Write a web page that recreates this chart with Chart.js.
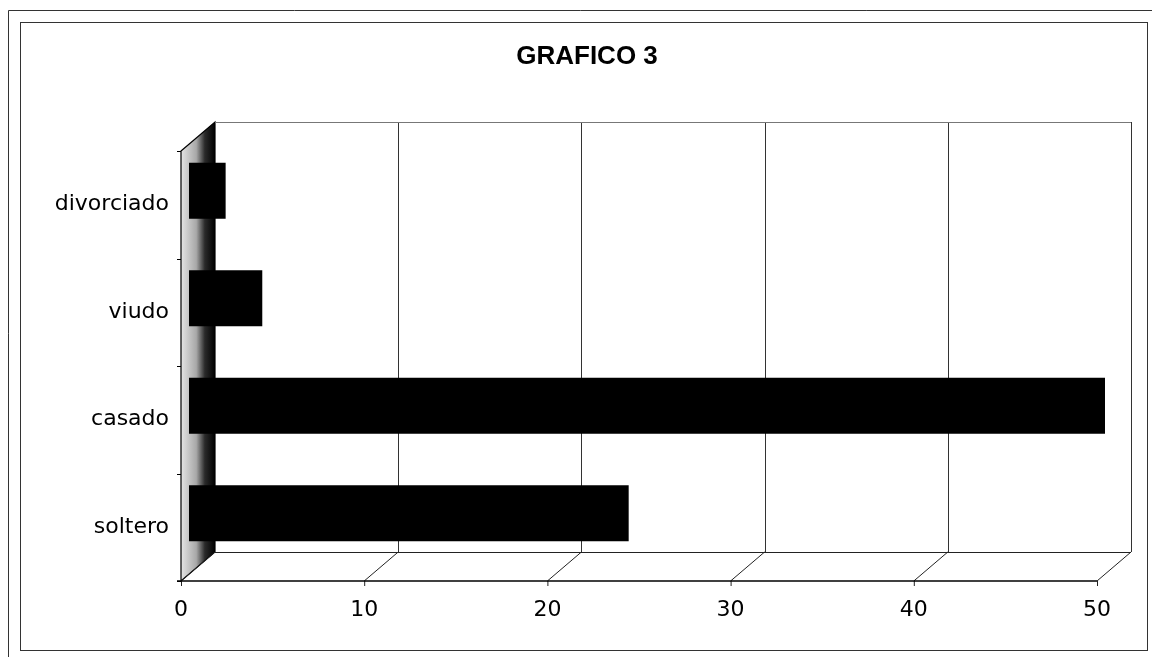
<!DOCTYPE html>
<html>
<head>
<meta charset="utf-8">
<script src="https://cdn.jsdelivr.net/npm/chart.js@4"></script>
<style>
    body { margin: 0; background: #fff; }
    #wrap { width: 1152px; height: 657px; position: relative; }
</style>
</head>
<body>
<div id="wrap"><canvas id="grafico3"></canvas></div>
<script>
const categories = ['soltero', 'casado', 'viudo', 'divorciado'];
const counts = [24, 50, 4, 2];
const xTicks = [0, 10, 20, 30, 40, 50];

// offsets of the front and back planes from the plane the bars sit in
const FRONT = { dx: -8, dy: 14 };
const BACK = { dx: 26, dy: -15 };

const grafico3Ctx = document.getElementById('grafico3').getContext('2d');

const box3d = {
    id: 'box3d',
    beforeDatasetsDraw(chart) {
        const ctx = chart.ctx;
        const area = chart.chartArea;
        const xs = chart.scales.x;
        const x0 = xs.getPixelForValue(0);
        const xMax = xs.getPixelForValue(xTicks[xTicks.length - 1]);
        ctx.save();

        // left wall
        const grad = ctx.createLinearGradient(x0 + FRONT.dx, 0, x0 + BACK.dx, 0);
        grad.addColorStop(0, '#e4e4e4');
        grad.addColorStop(0.45, '#a8a8a8');
        grad.addColorStop(0.7, '#2a2a2a');
        grad.addColorStop(1, '#000');
        ctx.fillStyle = grad;
        ctx.beginPath();
        ctx.moveTo(x0 + FRONT.dx, area.top + FRONT.dy);
        ctx.lineTo(x0 + BACK.dx, area.top + BACK.dy);
        ctx.lineTo(x0 + BACK.dx, area.bottom + BACK.dy);
        ctx.lineTo(x0 + FRONT.dx, area.bottom + FRONT.dy);
        ctx.closePath();
        ctx.fill();
        ctx.strokeStyle = '#000';
        ctx.lineWidth = 1.2;
        ctx.stroke();

        // back wall grid lines
        ctx.strokeStyle = '#333';
        ctx.lineWidth = 1;
        xTicks.forEach(v => {
            if (v === 0) return;
            const x = Math.round(xs.getPixelForValue(v) + BACK.dx) + 0.5;
            ctx.beginPath();
            ctx.moveTo(x, area.top + BACK.dy);
            ctx.lineTo(x, area.bottom + BACK.dy);
            ctx.stroke();
        });
        // back top edge
        ctx.strokeStyle = '#777';
        ctx.beginPath();
        ctx.moveTo(x0 + BACK.dx, area.top + BACK.dy + 0.5);
        ctx.lineTo(xMax + BACK.dx, area.top + BACK.dy + 0.5);
        ctx.stroke();

        // floor
        ctx.strokeStyle = '#222';
        ctx.beginPath();
        ctx.moveTo(x0 + BACK.dx, area.bottom + BACK.dy + 0.5);
        ctx.lineTo(xMax + BACK.dx, area.bottom + BACK.dy + 0.5);
        ctx.stroke();
        xTicks.forEach(v => {
            const x = xs.getPixelForValue(v);
            ctx.beginPath();
            ctx.moveTo(x + FRONT.dx, area.bottom + FRONT.dy);
            ctx.lineTo(x + BACK.dx, area.bottom + BACK.dy);
            ctx.stroke();
            // tick mark below the front edge
            ctx.beginPath();
            ctx.moveTo(x + FRONT.dx + 0.5, area.bottom + FRONT.dy);
            ctx.lineTo(x + FRONT.dx + 0.5, area.bottom + FRONT.dy + 5);
            ctx.stroke();
        });
        ctx.strokeStyle = '#000';
        ctx.lineWidth = 1.5;
        ctx.beginPath();
        ctx.moveTo(x0 + FRONT.dx - 4, area.bottom + FRONT.dy);
        ctx.lineTo(xMax + FRONT.dx, area.bottom + FRONT.dy);
        ctx.stroke();

        // small ticks on the wall edge between categories
        ctx.lineWidth = 1;
        const step = (area.bottom - area.top) / categories.length;
        for (let i = 0; i <= categories.length; i++) {
            const y = Math.round(area.top + FRONT.dy + i * step) + 0.5;
            ctx.beginPath();
            ctx.moveTo(x0 + FRONT.dx - 4, y);
            ctx.lineTo(x0 + FRONT.dx, y);
            ctx.stroke();
        }
        ctx.restore();
    },
    afterDraw(chart) {
        // the frame round the chart
        const ctx = chart.ctx;
        ctx.save();
        ctx.strokeStyle = '#333';
        ctx.lineWidth = 1;
        ctx.strokeRect(20.5, 22.5, 1127, 628);
        ctx.beginPath();
        ctx.moveTo(8.5, 657);
        ctx.lineTo(8.5, 10.5);
        ctx.lineTo(1152, 10.5);
        ctx.stroke();
        ctx.restore();
    }
};

new Chart(grafico3Ctx, {
    type: 'bar',
    data: {
        labels: categories,
        datasets: [{
            label: 'GRAFICO 3',
            data: counts,
            backgroundColor: '#000',
            borderWidth: 0,
            barPercentage: 0.52,
            categoryPercentage: 1
        }]
    },
    options: {
        indexAxis: 'y',
        responsive: true,
        maintainAspectRatio: false,
        animation: false,
        layout: {
            padding: { left: 22, right: 0, top: 0, bottom: 0 }
        },
        plugins: {
            legend: { display: false },
            tooltip: { enabled: false },
            title: {
                display: true,
                text: 'GRAFICO 3',
                color: '#000',
                font: { family: "'Liberation Sans', Arial, sans-serif", size: 26, weight: 'bold' },
                padding: { top: 41, bottom: 64.8 }
            }
        },
        scales: {
            x: {
                min: 0,
                max: 50,
                afterFit: (scale) => { scale.height = 90; },
                afterBuildTicks: (scale) => { scale.ticks = xTicks.map(v => ({ value: v })); },
                grid: { display: false },
                border: { display: false },
                ticks: {
                    color: '#000',
                    padding: 22,
                    labelOffset: -8,
                    font: { family: "'DejaVu Sans', sans-serif", size: 22 }
                }
            },
            y: {
                reverse: true,
                afterFit: (scale) => { scale.width = 167; },
                grid: { display: false },
                border: { display: false },
                ticks: {
                    color: '#000',
                    padding: 12,
                    labelOffset: 14,
                    font: { family: "'DejaVu Sans', sans-serif", size: 22 }
                }
            },
            // empty strip on the right, keeps the plot clear of the frame
            yRight: {
                type: 'category',
                position: 'right',
                afterFit: (scale) => { scale.width = 47; },
                grid: { display: false },
                border: { display: false },
                ticks: { display: false }
            }
        }
    },
    plugins: [box3d]
});
</script>
</body>
</html>
